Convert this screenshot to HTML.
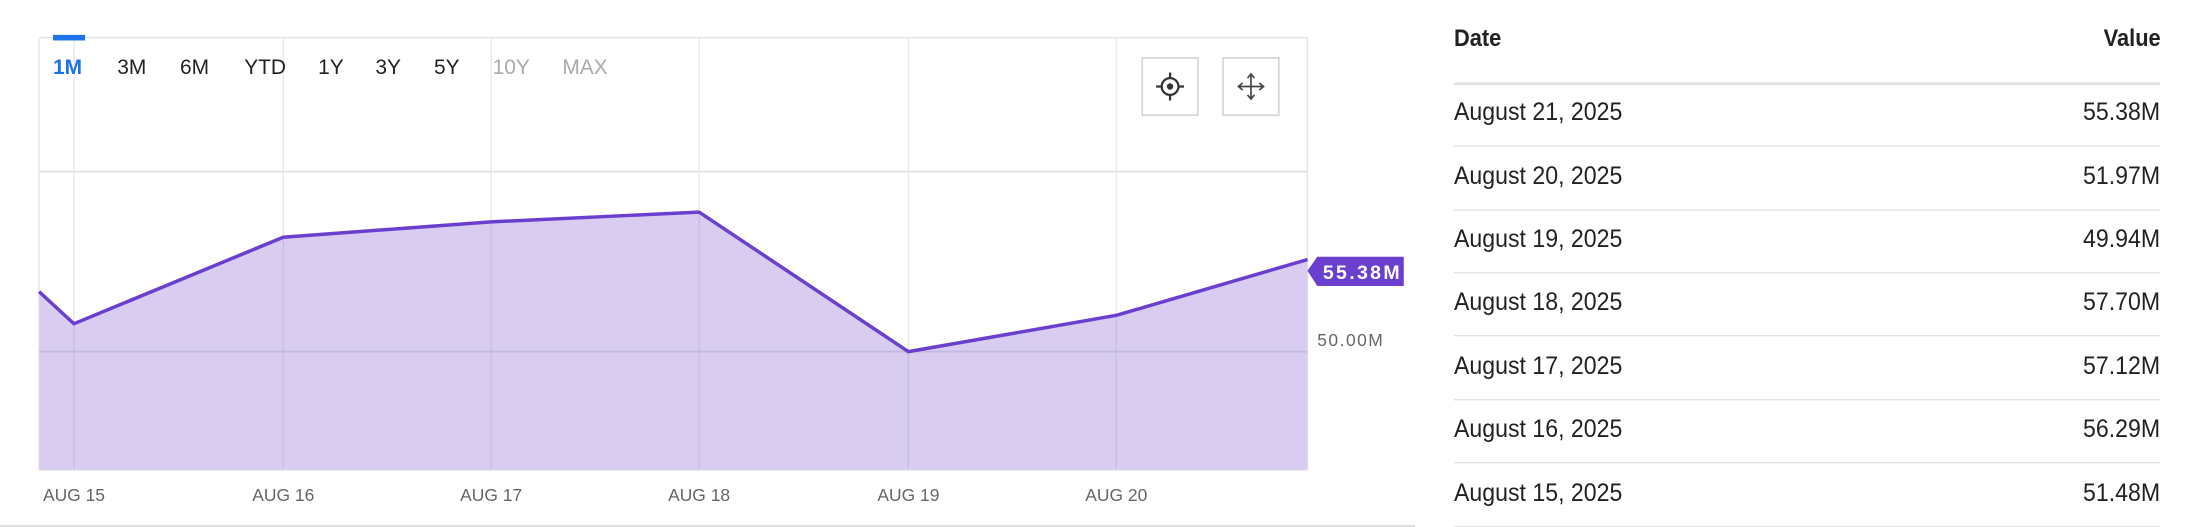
<!DOCTYPE html>
<html><head><meta charset="utf-8"><style>
html,body{margin:0;padding:0;background:#fff;overflow:hidden;width:2188px;height:527px}
#w{position:absolute;left:0;top:0;width:1568px;height:378px;transform:scale(1.3954);transform-origin:0 0;font-family:"Liberation Sans",sans-serif}
.row{position:absolute;left:1042px;width:506px;height:24px;font-size:18px;color:#222}
.row span{position:absolute;left:0;display:inline-block;transform:scaleX(0.92);transform-origin:left}
.row b{position:absolute;right:0;font-weight:normal;display:inline-block;transform:scaleX(0.92);transform-origin:right}
.sep{position:absolute;left:1042px;width:506px;height:1px;background:#e2e2e2}
</style></head><body><div id="w">
<svg width="1020" height="378" style="position:absolute;left:0;top:0">
<line x1="28" y1="27" x2="937" y2="27" stroke="#e6e6e6"/>
<rect x="38" y="25" width="23" height="4" fill="#1a73e8"/>
<line x1="28" y1="27" x2="28" y2="337" stroke="#e6e6e6"/>
<line x1="937" y1="27" x2="937" y2="337" stroke="#e6e6e6"/>
<line x1="28" y1="123" x2="937" y2="123" stroke="#e4e4e4" stroke-width="1.5"/>
<g stroke="#e8e8e8"><line x1="53" y1="29" x2="53" y2="337"/><line x1="203" y1="27" x2="203" y2="337"/><line x1="352" y1="27" x2="352" y2="337"/><line x1="501" y1="27" x2="501" y2="337"/><line x1="651" y1="27" x2="651" y2="337"/><line x1="800" y1="27" x2="800" y2="337"/></g>
<polygon points="28,209 53,232 203,170 352,159 501,152 651,252 800,226 937,186 937,337 28,337" fill="#d8cdf0"/>
<g stroke="#c9bde3"><line x1="53" y1="232" x2="53" y2="337"/><line x1="203" y1="170" x2="203" y2="337"/><line x1="352" y1="159" x2="352" y2="337"/><line x1="501" y1="152" x2="501" y2="337"/><line x1="651" y1="252" x2="651" y2="337"/><line x1="800" y1="226" x2="800" y2="337"/></g>
<line x1="28" y1="252" x2="937" y2="252" stroke="#c4b8de" stroke-width="1.5"/>
<line x1="28" y1="337" x2="937" y2="337" stroke="#e6e6e6"/>
<polyline points="28,209 53,232 203,170 352,159 501,152 651,252 800,226 937,186" fill="none" stroke="#6a3fcf" stroke-width="2.5"/>
<polygon points="937,194 944,184 1006,184 1006,205 944,205" fill="#6a3fcf"/>
<text x="948" y="200" font-size="14" font-weight="bold" fill="#fff" textLength="55" font-family="Liberation Sans">55.38M</text>
<text x="944" y="248" font-size="12.5" fill="#666" textLength="47" font-family="Liberation Sans">50.00M</text>
<g font-size="12.5" fill="#666" text-anchor="middle" font-family="Liberation Sans">
<text x="53" y="359">AUG 15</text><text x="203" y="359">AUG 16</text><text x="352" y="359">AUG 17</text><text x="501" y="359">AUG 18</text><text x="651" y="359">AUG 19</text><text x="800" y="359">AUG 20</text></g>
<g font-size="15" font-family="Liberation Sans" fill="#222">
<text x="38" y="53" fill="#1a73e8" font-weight="bold">1M</text><text x="84" y="53">3M</text><text x="129" y="53">6M</text><text x="175" y="53">YTD</text><text x="228" y="53">1Y</text><text x="269" y="53">3Y</text><text x="311" y="53">5Y</text><text x="353" y="53" fill="#aaa">10Y</text><text x="403" y="53" fill="#aaa">MAX</text></g>
<rect x="818.5" y="41.5" width="40" height="41" fill="#fff" stroke="#ccc"/>
<rect x="876.5" y="41.5" width="40" height="41" fill="#fff" stroke="#ccc"/>
<circle cx="838.5" cy="62" r="6" fill="none" stroke="#333" stroke-width="1.6"/><circle cx="838.5" cy="62" r="2.3" fill="#333"/>
<g stroke="#333" stroke-width="1.6"><line x1="838.5" y1="52" x2="838.5" y2="56"/><line x1="838.5" y1="68" x2="838.5" y2="72"/><line x1="828.5" y1="62" x2="832.5" y2="62"/><line x1="844.5" y1="62" x2="848.5" y2="62"/></g>
<g stroke="#444" stroke-width="1.2" fill="none"><line x1="896.5" y1="53" x2="896.5" y2="71"/><line x1="887.5" y1="62" x2="905.5" y2="62"/><polyline points="894,56 896.5,53 899,56"/><polyline points="894,68 896.5,71 899,68"/><polyline points="890.5,59.5 887.5,62 890.5,64.5"/><polyline points="902.5,59.5 905.5,62 902.5,64.5"/></g>
<line x1="0" y1="377" x2="1014" y2="377" stroke="#ddd" stroke-width="1.5"/>
</svg>
<div class="row" style="top:18px;font-weight:bold;font-size:17px"><span>Date</span><b style="font-weight:bold">Value</b></div>
<div class="sep" style="top:59px;height:1.5px"></div>
<div class="row" style="top:70px"><span>August 21, 2025</span><b>55.38M</b></div>
<div class="sep" style="top:104px"></div>
<div class="row" style="top:116px"><span>August 20, 2025</span><b>51.97M</b></div>
<div class="sep" style="top:150px"></div>
<div class="row" style="top:161px"><span>August 19, 2025</span><b>49.94M</b></div>
<div class="sep" style="top:195px"></div>
<div class="row" style="top:206px"><span>August 18, 2025</span><b>57.70M</b></div>
<div class="sep" style="top:240px"></div>
<div class="row" style="top:252px"><span>August 17, 2025</span><b>57.12M</b></div>
<div class="sep" style="top:286px"></div>
<div class="row" style="top:297px"><span>August 16, 2025</span><b>56.29M</b></div>
<div class="sep" style="top:331px"></div>
<div class="row" style="top:343px"><span>August 15, 2025</span><b>51.48M</b></div>
<div class="sep" style="top:377px"></div>
</div></body></html>
